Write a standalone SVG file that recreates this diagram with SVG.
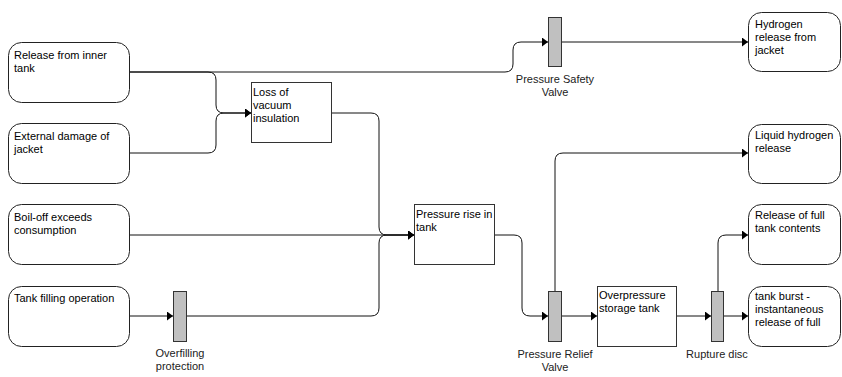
<svg xmlns="http://www.w3.org/2000/svg" width="842" height="377" viewBox="0 0 842 377">
<style>
.rb{fill:#fff;stroke:#222;stroke-width:1}
.bx{fill:#fff;stroke:#333;stroke-width:1}
.bar{fill:#c0c0c0;stroke:#333;stroke-width:1}
.t{font-family:"Liberation Sans",Arial,sans-serif;font-size:11px;fill:#000}
.l{font-family:"Liberation Sans",Arial,sans-serif;font-size:11px;fill:#222;text-anchor:middle}
.c{fill:none;stroke:#111;stroke-width:1}
</style>
<defs>
<marker id="ah" markerUnits="userSpaceOnUse" markerWidth="7" markerHeight="9" refX="6" refY="4.5" orient="auto">
<path d="M0,0 L6,4.5 L0,9 z" fill="#000"/>
</marker>
</defs>
<rect width="842" height="377" fill="#fff"/>
<g id="connectors">
<path class="c" d="M130,72 H208 Q216,72 216,80 V105 Q216,113 224,113 H251" marker-end="url(#ah)"/>
<path class="c" d="M130,153 H208 Q216,153 216,145 V121 Q216,113 224,113 H251" marker-end="url(#ah)"/>
<path class="c" d="M130,72 H505 Q513,72 513,64 V50 Q513,42 521,42 H548" marker-end="url(#ah)"/>
<path class="c" d="M562,42 H748" marker-end="url(#ah)"/>
<path class="c" d="M332,113 H371 Q379,113 379,121 V227 Q379,235 387,235 H414" marker-end="url(#ah)"/>
<path class="c" d="M130,235 H414" marker-end="url(#ah)"/>
<path class="c" d="M130,316 H173" marker-end="url(#ah)"/>
<path class="c" d="M187,316 H371 Q379,316 379,308 V243 Q379,235 387,235 H414" marker-end="url(#ah)"/>
<path class="c" d="M494,235 H514 Q522,235 522,243 V308 Q522,316 530,316 H548" marker-end="url(#ah)"/>
<path class="c" d="M555,291 V161 Q555,153 563,153 H748" marker-end="url(#ah)"/>
<path class="c" d="M562,316 H597" marker-end="url(#ah)"/>
<path class="c" d="M677,316 H711" marker-end="url(#ah)"/>
<path class="c" d="M718,291 V243 Q718,235 726,235 H748" marker-end="url(#ah)"/>
<path class="c" d="M724,316 H748" marker-end="url(#ah)"/>
</g>
<g id="release-inner">
<rect class="rb" x="8.5" y="42.5" width="121" height="60" rx="13"/>
<text class="t" x="14" y="59">Release from inner</text>
<text class="t" x="14" y="72">tank</text>
</g>
<g id="external-damage">
<rect class="rb" x="8.5" y="123.5" width="121" height="60" rx="13"/>
<text class="t" x="14" y="140">External damage of</text>
<text class="t" x="14" y="153">jacket</text>
</g>
<g id="boil-off">
<rect class="rb" x="8.5" y="204.5" width="121" height="60" rx="13"/>
<text class="t" x="14" y="221">Boil-off exceeds</text>
<text class="t" x="14" y="234">consumption</text>
</g>
<g id="tank-filling">
<rect class="rb" x="8.5" y="286.5" width="121" height="60" rx="13"/>
<text class="t" x="14" y="302">Tank filling operation</text>
</g>
<g id="overfilling-protection">
<rect class="bar" x="173.5" y="291.5" width="13" height="50"/>
<text class="l" x="180" y="357">Overfilling</text>
<text class="l" x="180" y="370">protection</text>
</g>
<g id="loss-vacuum">
<rect class="bx" x="251.5" y="82.5" width="80" height="60"/>
<text class="t" x="253" y="96">Loss of</text>
<text class="t" x="253" y="109">vacuum</text>
<text class="t" x="253" y="122">insulation</text>
</g>
<g id="pressure-rise">
<rect class="bx" x="414.5" y="204.5" width="80" height="60"/>
<text class="t" x="416" y="218">Pressure rise in</text>
<text class="t" x="416" y="231">tank</text>
</g>
<g id="pressure-safety-valve">
<rect class="bar" x="548.5" y="17.5" width="13" height="49"/>
<text class="l" x="555" y="83">Pressure Safety</text>
<text class="l" x="555" y="96">Valve</text>
</g>
<g id="pressure-relief-valve">
<rect class="bar" x="548.5" y="291.5" width="13" height="50"/>
<text class="l" x="555" y="358">Pressure Relief</text>
<text class="l" x="555" y="371">Valve</text>
</g>
<g id="overpressure">
<rect class="bx" x="597.5" y="286.5" width="79" height="60"/>
<text class="t" x="599" y="299">Overpressure</text>
<text class="t" x="599" y="312">storage tank</text>
</g>
<g id="rupture-disc">
<rect class="bar" x="711.5" y="291.5" width="12" height="50"/>
<text class="l" x="717" y="358">Rupture disc</text>
</g>
<g id="hydrogen-jacket">
<rect class="rb" x="748.5" y="12.5" width="92" height="59" rx="13"/>
<text class="t" x="755" y="28">Hydrogen</text>
<text class="t" x="755" y="41">release from</text>
<text class="t" x="755" y="54">jacket</text>
</g>
<g id="liquid-hydrogen">
<rect class="rb" x="748.5" y="124.5" width="92" height="59" rx="13"/>
<text class="t" x="755" y="139">Liquid hydrogen</text>
<text class="t" x="755" y="152">release</text>
</g>
<g id="release-full">
<rect class="rb" x="748.5" y="204.5" width="92" height="60" rx="13"/>
<text class="t" x="755" y="219">Release of full</text>
<text class="t" x="755" y="232">tank contents</text>
</g>
<g id="tank-burst">
<rect class="rb" x="748.5" y="286.5" width="92" height="60" rx="13"/>
<text class="t" x="755" y="300">tank burst -</text>
<text class="t" x="755" y="313">instantaneous</text>
<text class="t" x="755" y="326">release of full</text>
</g>
</svg>
